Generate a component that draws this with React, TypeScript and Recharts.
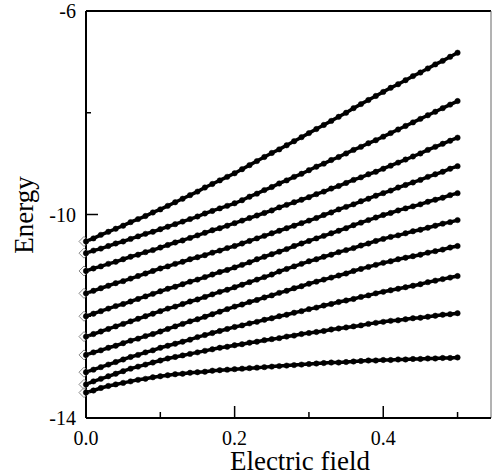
import React from 'react';
import { ComposedChart, Line, Scatter, XAxis, YAxis, ReferenceLine, Label } from 'recharts';

// field values (x), step 0.01
const FIELD = [
  0, 0.01, 0.02, 0.03, 0.04, 0.05, 0.06, 0.07, 0.08, 0.09,
  0.1, 0.11, 0.12, 0.13, 0.14, 0.15, 0.16, 0.17, 0.18, 0.19,
  0.2, 0.21, 0.22, 0.23, 0.24, 0.25, 0.26, 0.27, 0.28, 0.29,
  0.3, 0.31, 0.32, 0.33, 0.34, 0.35, 0.36, 0.37, 0.38, 0.39,
  0.4, 0.41, 0.42, 0.43, 0.44, 0.45, 0.46, 0.47, 0.48, 0.49, 0.5,
];

// energy levels, top to bottom
const LEVEL_1 = [
  -10.53, -10.47, -10.40, -10.34, -10.28, -10.22, -10.15, -10.09, -10.03, -9.96,
  -9.90, -9.83, -9.76, -9.69, -9.62, -9.55, -9.47, -9.40, -9.33, -9.26,
  -9.19, -9.11, -9.03, -8.95, -8.87, -8.79, -8.72, -8.64, -8.56, -8.48,
  -8.40, -8.32, -8.24, -8.16, -8.08, -8.00, -7.91, -7.83, -7.75, -7.67,
  -7.59, -7.51, -7.44, -7.36, -7.28, -7.21, -7.13, -7.05, -6.98, -6.90, -6.82,
];
const LEVEL_2 = [
  -10.76, -10.71, -10.67, -10.62, -10.57, -10.53, -10.48, -10.43, -10.38, -10.34,
  -10.29, -10.24, -10.19, -10.14, -10.09, -10.04, -9.98, -9.93, -9.88, -9.83,
  -9.78, -9.72, -9.65, -9.59, -9.52, -9.46, -9.39, -9.33, -9.26, -9.20,
  -9.13, -9.06, -9.00, -8.93, -8.87, -8.80, -8.73, -8.67, -8.60, -8.54,
  -8.47, -8.40, -8.33, -8.26, -8.19, -8.12, -8.05, -7.98, -7.91, -7.84, -7.77,
];
const LEVEL_3 = [
  -11.11, -11.06, -11.02, -10.97, -10.93, -10.88, -10.83, -10.79, -10.74, -10.70,
  -10.65, -10.60, -10.55, -10.51, -10.46, -10.41, -10.36, -10.31, -10.27, -10.22,
  -10.17, -10.12, -10.07, -10.02, -9.97, -9.92, -9.86, -9.81, -9.76, -9.71,
  -9.66, -9.60, -9.55, -9.49, -9.44, -9.38, -9.32, -9.27, -9.21, -9.16,
  -9.10, -9.04, -8.98, -8.92, -8.86, -8.80, -8.73, -8.67, -8.61, -8.55, -8.49,
];
const LEVEL_4 = [
  -11.55, -11.50, -11.45, -11.40, -11.35, -11.31, -11.26, -11.21, -11.16, -11.11,
  -11.06, -11.02, -10.97, -10.93, -10.88, -10.84, -10.80, -10.75, -10.71, -10.66,
  -10.62, -10.57, -10.52, -10.47, -10.42, -10.37, -10.32, -10.27, -10.22, -10.17,
  -10.12, -10.07, -10.01, -9.96, -9.90, -9.85, -9.80, -9.74, -9.69, -9.63,
  -9.58, -9.53, -9.47, -9.42, -9.37, -9.32, -9.26, -9.21, -9.16, -9.10, -9.05,
];
const LEVEL_5 = [
  -12.00, -11.95, -11.90, -11.85, -11.80, -11.76, -11.71, -11.66, -11.61, -11.56,
  -11.51, -11.46, -11.42, -11.37, -11.32, -11.28, -11.23, -11.18, -11.13, -11.09,
  -11.04, -10.99, -10.94, -10.88, -10.83, -10.78, -10.73, -10.68, -10.62, -10.57,
  -10.52, -10.47, -10.42, -10.37, -10.32, -10.27, -10.21, -10.16, -10.11, -10.06,
  -10.01, -9.97, -9.92, -9.88, -9.84, -9.80, -9.75, -9.71, -9.67, -9.62, -9.58,
];
const LEVEL_6 = [
  -12.40, -12.35, -12.30, -12.25, -12.20, -12.15, -12.10, -12.05, -12.00, -11.95,
  -11.90, -11.85, -11.81, -11.76, -11.71, -11.67, -11.62, -11.57, -11.52, -11.48,
  -11.43, -11.38, -11.33, -11.28, -11.23, -11.18, -11.12, -11.07, -11.02, -10.97,
  -10.92, -10.88, -10.83, -10.79, -10.74, -10.70, -10.66, -10.61, -10.57, -10.52,
  -10.48, -10.44, -10.41, -10.37, -10.33, -10.30, -10.26, -10.22, -10.18, -10.15, -10.11,
];
const LEVEL_7 = [
  -12.76, -12.71, -12.67, -12.62, -12.58, -12.53, -12.48, -12.44, -12.39, -12.35,
  -12.30, -12.25, -12.20, -12.15, -12.10, -12.06, -12.01, -11.96, -11.91, -11.86,
  -11.81, -11.77, -11.72, -11.68, -11.63, -11.59, -11.54, -11.50, -11.45, -11.41,
  -11.36, -11.32, -11.28, -11.24, -11.20, -11.16, -11.11, -11.07, -11.03, -10.99,
  -10.95, -10.92, -10.88, -10.85, -10.82, -10.79, -10.75, -10.72, -10.69, -10.65, -10.62,
];
const LEVEL_8 = [
  -13.10, -13.05, -13.00, -12.95, -12.90, -12.85, -12.80, -12.76, -12.71, -12.67,
  -12.62, -12.58, -12.54, -12.50, -12.46, -12.41, -12.37, -12.33, -12.29, -12.25,
  -12.21, -12.18, -12.14, -12.11, -12.07, -12.04, -12.00, -11.97, -11.93, -11.90,
  -11.86, -11.83, -11.79, -11.76, -11.72, -11.69, -11.66, -11.62, -11.59, -11.55,
  -11.52, -11.49, -11.46, -11.43, -11.40, -11.37, -11.33, -11.30, -11.27, -11.24, -11.21,
];
const LEVEL_9 = [
  -13.34, -13.28, -13.23, -13.18, -13.13, -13.08, -13.03, -12.99, -12.95, -12.91,
  -12.87, -12.83, -12.80, -12.77, -12.74, -12.71, -12.68, -12.65, -12.62, -12.60,
  -12.57, -12.55, -12.52, -12.50, -12.47, -12.45, -12.43, -12.40, -12.38, -12.35,
  -12.33, -12.31, -12.29, -12.26, -12.24, -12.22, -12.20, -12.18, -12.15, -12.13,
  -12.11, -12.09, -12.08, -12.06, -12.04, -12.03, -12.01, -11.99, -11.97, -11.96, -11.94,
];
const LEVEL_10 = [
  -13.50, -13.46, -13.41, -13.37, -13.34, -13.31, -13.28, -13.25, -13.23, -13.20,
  -13.18, -13.16, -13.14, -13.13, -13.11, -13.10, -13.09, -13.07, -13.06, -13.05,
  -13.04, -13.03, -13.02, -13.01, -13.00, -12.99, -12.98, -12.97, -12.96, -12.95,
  -12.94, -12.93, -12.92, -12.91, -12.91, -12.90, -12.89, -12.88, -12.87, -12.87,
  -12.86, -12.86, -12.85, -12.85, -12.84, -12.84, -12.83, -12.83, -12.82, -12.82, -12.81,
];

// zero-field values (open diamonds)
const ZERO_FIELD = [-10.53, -10.76, -11.11, -11.55, -12.00, -12.40, -12.76, -13.10, -13.34, -13.50];

const X_TICKS = [0, 0.1, 0.2, 0.3, 0.4, 0.5];
const X_LABELED = [0, 0.2, 0.4];
const Y_TICKS = [-14, -12, -10, -8, -6];
const Y_LABELED = [-14, -10, -6];

const LEVELS = [LEVEL_1, LEVEL_2, LEVEL_3, LEVEL_4, LEVEL_5, LEVEL_6, LEVEL_7, LEVEL_8, LEVEL_9, LEVEL_10];

const rows = FIELD.map((f, i) => {
  const row: Record<string, number> = { f };
  LEVELS.forEach((lv, k) => { row[`l${k}`] = lv[i]; });
  return row;
});
const diamonds = ZERO_FIELD.map(e => ({ f: 0, e }));

const FONT = '"Liberation Serif", "Times New Roman", serif';

const XTick = ({ x, y, payload }: any) => {
  const major = X_LABELED.includes(payload.value);
  return (
    <g>
      <line x1={x} x2={x} y1={y} y2={y - (major ? 12 : 6)} stroke="#000" strokeWidth={1.5} />
      {major && (
        <text x={x} y={y + 27} textAnchor="middle" fontSize={20} fontFamily={FONT} fill="#000">
          {payload.value.toFixed(1)}
        </text>
      )}
    </g>
  );
};

const YTick = ({ x, y, payload }: any) => {
  const major = Y_LABELED.includes(payload.value);
  return (
    <g>
      <line x1={x} x2={x + (major ? 12 : 5)} y1={y} y2={y} stroke="#000" strokeWidth={1.5} />
      {major && (
        <text x={x - 10} y={y + 7} textAnchor="end" fontSize={20} fontFamily={FONT} fill="#000">
          {payload.value}
        </text>
      )}
    </g>
  );
};

const Diamond = ({ cx, cy }: any) => (
  <polygon
    points={`${cx - 2},${cy - 5} ${cx + 3},${cy} ${cx - 2},${cy + 5} ${cx - 7},${cy}`}
    fill="none"
    stroke="#888"
    strokeWidth={1}
  />
);

export default function App() {
  return (
    <div style={{ position: 'absolute', left: 0, top: 0, background: '#fff' }}>
      <ComposedChart width={493} height={475} data={rows} margin={{ top: 11, right: 2, bottom: 0, left: 0 }}>
        <XAxis
          dataKey="f"
          type="number"
          domain={[0, 0.545]}
          ticks={X_TICKS}
          tick={<XTick />}
          tickLine={false}
          tickSize={0}
          tickMargin={0}
          height={57}
          axisLine={{ stroke: '#000', strokeWidth: 2 }}
        >
          <Label
            content={() => (
              <text x={300} y={470} textAnchor="middle" fontSize={27} fontFamily={FONT} fill="#000">
                Electric field
              </text>
            )}
          />
        </XAxis>
        <YAxis
          type="number"
          domain={[-14, -6]}
          ticks={Y_TICKS}
          tick={<YTick />}
          tickLine={false}
          tickSize={0}
          tickMargin={0}
          width={86}
          axisLine={{ stroke: '#000', strokeWidth: 2 }}
        >
          <Label
            content={() => (
              <text
                x={33}
                y={215}
                transform="rotate(-90 33 215)"
                textAnchor="middle"
                fontSize={27}
                fontFamily={FONT}
                fill="#000"
              >
                Energy
              </text>
            )}
          />
        </YAxis>
        <ReferenceLine y={-6} stroke="#000" strokeWidth={2} />
        <ReferenceLine x={0.545} stroke="#666" strokeWidth={1} />
        <Scatter data={diamonds} dataKey="e" shape={<Diamond />} isAnimationActive={false} />
        {LEVELS.map((_, k) => (
          <Line
            key={k}
            dataKey={`l${k}`}
            stroke="#000"
            strokeWidth={3.5}
            dot={{ r: 2.7, fill: '#000', stroke: '#000', strokeWidth: 0.5 }}
            isAnimationActive={false}
          />
        ))}
      </ComposedChart>
    </div>
  );
}
